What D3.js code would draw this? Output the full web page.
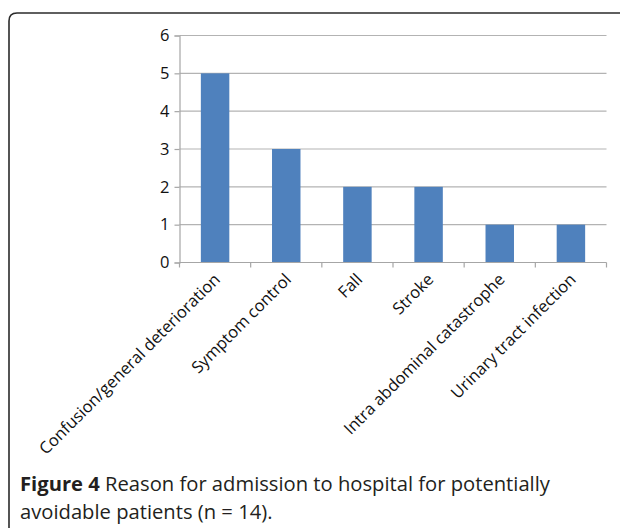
<!DOCTYPE html>
<html>
<head>
<meta charset="utf-8">
<script src="https://cdn.jsdelivr.net/npm/d3@7"></script>
<style>
  body { margin: 0; background: #fff; }
</style>
</head>
<body>
<div id="chart"></div>
<script>
const width = 620;
const height = 528;

// Data
const reasons = ["Confusion/general deterioration", "Symptom control", "Fall", "Stroke",
  "Intra abdominal catastrophe", "Urinary tract infection"];
const patients = [5, 3, 2, 2, 1, 1];
const yTicks = [0, 1, 2, 3, 4, 5, 6];

const svg = d3.select("#chart").append("svg").attr("width", width).attr("height", height);

// Frame round the figure (open to the right and bottom)
svg.append("path")
  .attr("d", "M9,530 L9,21 Q9,13 17,13 L625,13")
  .attr("fill", "none").attr("stroke", "#2b2b2b").attr("stroke-width", 1.6);

const x = d3.scaleBand().domain(reasons).range([179.5, 606.5]).paddingInner(0.6).paddingOuter(0.3);
const y = d3.scaleLinear().domain([0, 6]).range([262.5, 35.5]);

// Gridlines
svg.append("g").selectAll("line").data(yTicks.slice(1)).join("line")
  .attr("x1", 179.5).attr("x2", 606.5)
  .attr("y1", d => y(d)).attr("y2", d => y(d))
  .attr("stroke", "#b3b3b3").attr("stroke-width", 1.2);

// Bars
svg.append("g").selectAll("rect").data(patients).join("rect")
  .attr("x", (d, i) => x(reasons[i]))
  .attr("y", d => y(d))
  .attr("width", x.bandwidth())
  .attr("height", d => y(0) - y(d))
  .attr("fill", "#4f81bd");

// Y axis
const yAxis = svg.append("g").attr("transform", "translate(179.5,0)")
  .call(d3.axisLeft(y).tickValues(yTicks).tickFormat(d3.format("d")).tickSize(5).tickPadding(5));
yAxis.select(".domain").attr("stroke", "#a6a6a6").attr("stroke-width", 1.2);
yAxis.selectAll(".tick line").attr("stroke", "#a6a6a6").attr("stroke-width", 1.2);
yAxis.selectAll("text").attr("font-family", "Open Sans").attr("font-size", 16.5).attr("fill", "#111");

// X axis line and ticks between categories
svg.append("line").attr("x1", 179.5).attr("x2", 606.5).attr("y1", y(0)).attr("y2", y(0))
  .attr("stroke", "#a6a6a6").attr("stroke-width", 1.2);
const step = x.step();
svg.append("g").selectAll("line").data(d3.range(reasons.length + 1)).join("line")
  .attr("x1", i => 179.5 + i * step).attr("x2", i => 179.5 + i * step)
  .attr("y1", y(0)).attr("y2", y(0) + 5)
  .attr("stroke", "#a6a6a6").attr("stroke-width", 1.2);

// Category labels, rotated
svg.append("g").selectAll("text").data(reasons).join("text")
  .attr("transform", d => `translate(${x(d) + x.bandwidth() / 2 + 6},${y(0) + 18}) rotate(-45)`)
  .attr("text-anchor", "end")
  .attr("font-family", "Open Sans").attr("font-size", 16.5).attr("fill", "#111")
  .text(d => d);

// Caption
const caption = svg.append("g").attr("font-family", "Open Sans").attr("font-size", 20.2).attr("fill", "#231f20");
const line1 = caption.append("text").attr("x", 20).attr("y", 491);
line1.append("tspan").attr("font-weight", "bold").text("Figure 4");
line1.append("tspan").text(" Reason for admission to hospital for potentially");
caption.append("text").attr("x", 20).attr("y", 519).text("avoidable patients (n = 14).");
</script>
</body>
</html>
